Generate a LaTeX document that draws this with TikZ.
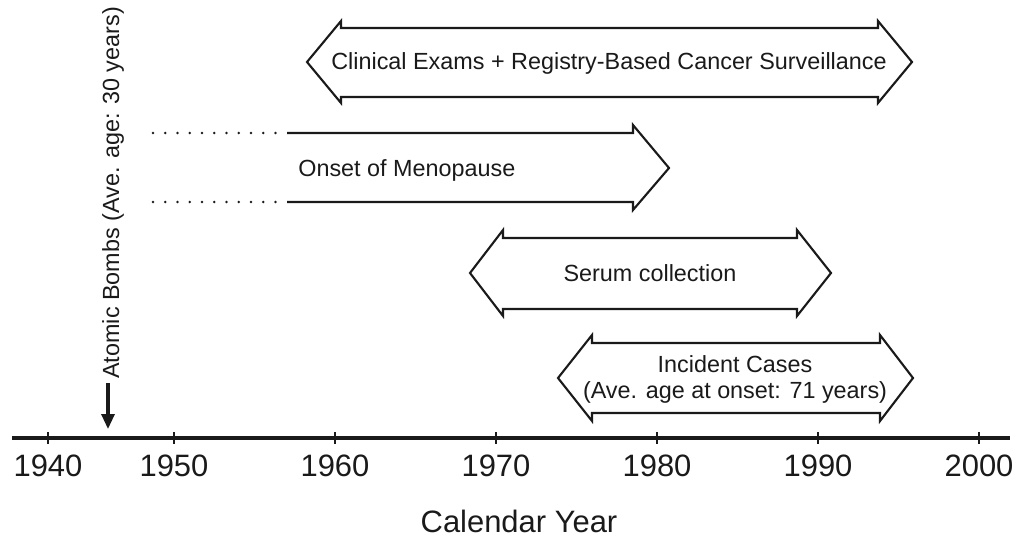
\documentclass[tikz,border=0pt]{standalone}
\usepackage{fontspec}
\setmainfont{Liberation Sans}
\usepackage{tikz}
\usetikzlibrary{arrows.meta,positioning,calc}
\definecolor{ink}{HTML}{1A1A1A}
\tikzset{
  spanbox/.style  ={draw=ink, line width=1.2pt, line join=miter, fill=white},
  openbar/.style  ={draw=ink, line width=1.2pt, line join=miter},
  dotbar/.style   ={draw=ink, line width=1.6pt, line cap=round,
                    dash pattern=on 0pt off 2.45mm},
  boxlbl/.style   ={text=ink, inner sep=0pt,
                    font=\fontsize{13.3}{14.8}\selectfont},
  yearlbl/.style  ={text=ink, inner sep=0pt,
                    font=\fontsize{17.6}{20}\selectfont},
  axisline/.style ={draw=ink, line width=1.8pt},
  tickline/.style ={draw=ink, line width=1pt},
  bombarr/.style  ={-{Triangle[length=3mm,width=2.6mm]}, line width=1.8pt, draw=ink},
}
\begin{document}
\begin{tikzpicture}[x=0.2mm,y=-0.2mm]
    \useasboundingbox (0,0) rectangle (1025,542);
    % clinical exams span
    \draw[spanbox] (307,62) -- (341,21) -- (341,28) -- (878,28) -- (878,21)
      -- (912,62) -- (878,103) -- (878,97) -- (341,97) -- (341,103) -- cycle;
    \node[boxlbl,anchor=base] (clin) at (609,70)
      {Clinical Exams + Registry-Based Cancer Surveillance};
    % menopause, open at the left
    \draw[openbar] (287,133) -- (633,133) -- (633,125) -- (669,168)
      -- (633,210) -- (633,202) -- (287,202);
    \draw[dotbar] (153,133) -- (277,133);
    \draw[dotbar] (153,202) -- (277,202);
    \node[boxlbl,anchor=base west] (meno) at (298,176) {Onset of Menopause};
    % serum
    \draw[spanbox] (470,273) -- (503,230) -- (503,238) -- (797,238) -- (797,230)
      -- (831,273) -- (797,316) -- (797,309) -- (503,309) -- (503,316) -- cycle;
    \node[boxlbl,anchor=base] (serum) at (650,281) {Serum collection};
    % incident cases
    \draw[spanbox] (558,378) -- (592,335) -- (592,343) -- (880,343) -- (880,335)
      -- (913,378) -- (880,421) -- (880,413) -- (592,413) -- (592,421) -- cycle;
    \node[boxlbl,align=center] (cases) at (735,379)
      {Incident Cases\\(Ave. age at onset: 71 years)};
    % axis
    \draw[axisline] (12,438) -- (1010,438);
    \foreach \x/\yr in {48/1940,174/1950,335/1960,496/1970,657/1980,818/1990,979/2000}{
      \draw[tickline] (\x,432) -- (\x,444);
      \node[yearlbl] (yr\yr) at (\x,466) {\yr};
    }
    \node[yearlbl,anchor=base] (xlabel) at (519,532) {Calendar Year};
    % bombs
    \coordinate (bomb) at (108,429);
    \node[boxlbl,rotate=90,anchor=west] (bombs) at (113,379)
      {Atomic Bombs (Ave. age: 30 years)};
    \draw[bombarr,shorten <=0.8mm] (bombs.west -| bomb) -- (bomb);
\end{tikzpicture}
\end{document}
